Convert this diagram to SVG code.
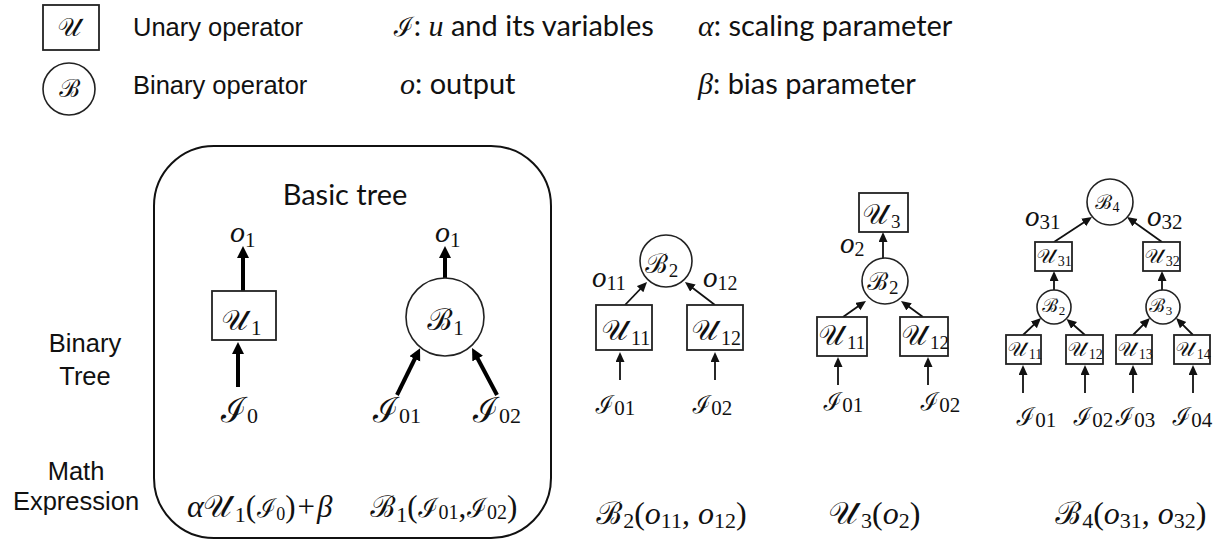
<svg xmlns="http://www.w3.org/2000/svg" width="1221" height="542" viewBox="0 0 1221 542">
<style>
.bg{fill:#fff}
.lbl{font-family:"Liberation Sans",Arial,sans-serif;font-size:25.5px;fill:#111}
.cal{font-family:Lato,"Open Sans",sans-serif;font-size:29px;fill:#111}
.mi{font-family:"Liberation Serif","DejaVu Serif",serif;font-style:italic}
.sc{font-family:"Noto Sans Math","STIX Two Math","DejaVu Serif","DejaVu Sans",serif;font-style:normal}
.dg{font-family:"Liberation Serif","DejaVu Serif",serif;font-style:normal}
text{fill:#111}
.box{fill:#fff;stroke:#222;stroke-width:1.8}
.cir{fill:#fff;stroke:#222;stroke-width:1.6}
.frame{fill:none;stroke:#111;stroke-width:2}
.thick{stroke:#000;stroke-width:4;fill:none;marker-end:url(#ah)}
.thin{stroke:#111;stroke-width:1.8;fill:none;marker-end:url(#at)}
</style>
<defs>
<marker id="ah" markerUnits="userSpaceOnUse" markerWidth="14" markerHeight="14" refX="1" refY="6" orient="auto"><path d="M0,0 L12,6 L0,12 z" fill="#000"/></marker>
<marker id="at" markerUnits="userSpaceOnUse" markerWidth="12" markerHeight="12" refX="1" refY="4.5" orient="auto"><path d="M0,0 L10,4.5 L0,9 z" fill="#111"/></marker>
</defs>
<rect class="bg" x="0" y="0" width="1221" height="542"/>

<g id="legend">
<rect class="box" x="43" y="5" width="56" height="45"/>
<text class="sc" x="71" y="36" font-size="25" text-anchor="middle">𝒰</text>
<text class="lbl" x="133" y="36">Unary operator</text>
<circle class="cir" cx="69" cy="89" r="26"/>
<text class="sc" x="70" y="97" font-size="25" text-anchor="middle">ℬ</text>
<text class="lbl" x="133" y="94">Binary operator</text>
<text class="cal" x="393" y="36"><tspan class="sc" font-size="27">ℐ</tspan><tspan>: </tspan><tspan class="mi" font-size="30">u</tspan><tspan> and its variables</tspan></text>
<text class="cal" x="400" y="94"><tspan class="mi" font-size="30">o</tspan><tspan>: output</tspan></text>
<text class="cal" x="698" y="36"><tspan class="mi" font-size="30">α</tspan><tspan>: scaling parameter</tspan></text>
<text class="cal" x="698" y="94"><tspan class="mi" font-size="30">β</tspan><tspan>: bias parameter</tspan></text>
</g>

<g id="row-labels">
<text class="lbl" x="85" y="352" text-anchor="middle">Binary</text>
<text class="lbl" x="85" y="385" text-anchor="middle">Tree</text>
<text class="lbl" x="76" y="480" text-anchor="middle">Math</text>
<text class="lbl" x="76" y="510" text-anchor="middle">Expression</text>
</g>

<g id="basic-tree">
<rect class="frame" x="154" y="146" width="397" height="392" rx="60" ry="60"/>
<text class="cal" x="345" y="205" text-anchor="middle">Basic tree</text>
</g>

<g id="connectors">
<path class="thick" d="M243,291 L243,257"/>
<path class="thick" d="M238,387 L238,353"/>
<path class="thick" d="M445,278 L445,257"/>
<path class="thick" d="M397,395 L415.2,358"/>
<path class="thick" d="M497,395 L477.2,357.7"/>
<path class="thin" d="M625,305 L640.8,288.5"/>
<path class="thin" d="M715,305 L692.1,287.5"/>
<path class="thin" d="M620,380 L620,361"/>
<path class="thin" d="M715,380 L715,361"/>
<path class="thin" d="M883,258 L883,241"/>
<path class="thin" d="M843,317 L858.6,306.1"/>
<path class="thin" d="M923,317 L908.3,306.3"/>
<path class="thin" d="M838,385 L838,366"/>
<path class="thin" d="M928,385 L928,366"/>
<path class="thin" d="M1054,242 L1084.5,221.9"/>
<path class="thin" d="M1162,242 L1134.3,222.2"/>
<path class="thin" d="M1054,291 L1054,280"/>
<path class="thin" d="M1162,291 L1162,280"/>
<path class="thin" d="M1023,335 L1034.5,324.2"/>
<path class="thin" d="M1085,335 L1073.3,324.8"/>
<path class="thin" d="M1133,335 L1143.6,324.4"/>
<path class="thin" d="M1193,335 L1182.4,324.4"/>
<path class="thin" d="M1023,393 L1023,374"/>
<path class="thin" d="M1085,393 L1085,374"/>
<path class="thin" d="M1133,393 L1133,374"/>
<path class="thin" d="M1193,393 L1193,374"/>
</g>

<g id="o1-a"><text x="230" y="242"><tspan class="mi" font-size="30">o</tspan><tspan class="dg" font-size="21" dy="5">1</tspan></text></g>
<g id="U1"><rect class="box" x="212" y="291" width="64" height="49"/><text x="222" y="330"><tspan class="sc" font-size="28">𝒰</tspan><tspan class="dg" font-size="21" dy="5">1</tspan></text></g>
<g id="I0"><text x="220" y="422"><tspan class="sc" font-size="35">ℐ</tspan><tspan class="dg" font-size="22" dy="1">0</tspan></text></g>
<g id="o1-b"><text x="435" y="242"><tspan class="mi" font-size="30">o</tspan><tspan class="dg" font-size="21" dy="5">1</tspan></text></g>
<g id="B1"><circle class="cir" cx="445" cy="317" r="39"/><text x="427" y="330"><tspan class="sc" font-size="30">ℬ</tspan><tspan class="dg" font-size="21" dy="5">1</tspan></text></g>
<g id="I01-a"><text x="372" y="422"><tspan class="sc" font-size="35">ℐ</tspan><tspan class="dg" font-size="22" dy="1">01</tspan></text></g>
<g id="I02-a"><text x="472" y="422"><tspan class="sc" font-size="35">ℐ</tspan><tspan class="dg" font-size="22" dy="1">02</tspan></text></g>
<g id="expr-a"><text x="187" y="517"><tspan class="mi" font-size="32">α</tspan><tspan class="sc" font-size="30">𝒰</tspan><tspan class="dg" font-size="22" dy="5">1</tspan><tspan class="dg" font-size="31" dy="-5">(</tspan><tspan class="sc" font-size="26">ℐ</tspan><tspan class="dg" font-size="18" dy="3">0</tspan><tspan class="dg" font-size="31" dy="-3">)</tspan><tspan class="dg" font-size="31" dx="2">+</tspan><tspan class="mi" font-size="31" dx="2">β</tspan></text></g>
<g id="expr-b"><text x="370" y="517"><tspan class="sc" font-size="30">ℬ</tspan><tspan class="dg" font-size="22" dy="5">1</tspan><tspan class="dg" font-size="31" dy="-5">(</tspan><tspan class="sc" font-size="27">ℐ</tspan><tspan class="dg" font-size="20" dy="2">01</tspan><tspan class="dg" font-size="31" dy="-2">,</tspan><tspan class="sc" font-size="27">ℐ</tspan><tspan class="dg" font-size="20" dy="2">02</tspan><tspan class="dg" font-size="31" dy="-2">)</tspan></text></g>

<g id="B2-a"><circle class="cir" cx="666" cy="261" r="26"/><text x="645" y="273"><tspan class="sc" font-size="27">ℬ</tspan><tspan class="dg" font-size="19" dy="4">2</tspan></text></g>
<g id="o11-a"><text x="592" y="287"><tspan class="mi" font-size="29">o</tspan><tspan class="dg" font-size="20" dy="3">11</tspan></text></g>
<g id="o12-a"><text x="703" y="287"><tspan class="mi" font-size="29">o</tspan><tspan class="dg" font-size="20" dy="3">12</tspan></text></g>
<g id="U11-a"><rect class="box" x="596" y="305" width="56" height="45"/><text x="602" y="340"><tspan class="sc" font-size="28">𝒰</tspan><tspan class="dg" font-size="20" dy="5">11</tspan></text></g>
<g id="U12-a"><rect class="box" x="687" y="305" width="56" height="45"/><text x="692" y="340"><tspan class="sc" font-size="28">𝒰</tspan><tspan class="dg" font-size="20" dy="5">12</tspan></text></g>
<g id="I01-b"><text x="595" y="413"><tspan class="sc" font-size="25">ℐ</tspan><tspan class="dg" font-size="21" dy="2">01</tspan></text></g>
<g id="I02-b"><text x="692" y="413"><tspan class="sc" font-size="25">ℐ</tspan><tspan class="dg" font-size="21" dy="2">02</tspan></text></g>

<g id="U3"><rect class="box" x="859" y="193" width="49" height="39"/><text x="863" y="224"><tspan class="sc" font-size="27">𝒰</tspan><tspan class="dg" font-size="19" dy="4">3</tspan></text></g>
<g id="o2"><text x="840" y="253"><tspan class="mi" font-size="29">o</tspan><tspan class="dg" font-size="20" dy="3">2</tspan></text></g>
<g id="B2-b"><circle class="cir" cx="885" cy="281" r="23"/><text x="867" y="290"><tspan class="sc" font-size="25">ℬ</tspan><tspan class="dg" font-size="19" dy="4">2</tspan></text></g>
<g id="U11-b"><rect class="box" x="817" y="317" width="50" height="39"/><text x="819" y="345"><tspan class="sc" font-size="27">𝒰</tspan><tspan class="dg" font-size="19" dy="4">11</tspan></text></g>
<g id="U12-b"><rect class="box" x="900" y="317" width="48" height="39"/><text x="902" y="345"><tspan class="sc" font-size="27">𝒰</tspan><tspan class="dg" font-size="19" dy="4">12</tspan></text></g>
<g id="I01-c"><text x="823" y="410"><tspan class="sc" font-size="25">ℐ</tspan><tspan class="dg" font-size="21" dy="2">01</tspan></text></g>
<g id="I02-c"><text x="920" y="410"><tspan class="sc" font-size="25">ℐ</tspan><tspan class="dg" font-size="21" dy="2">02</tspan></text></g>

<g id="B4"><circle class="cir" cx="1110" cy="202" r="23"/><text x="1095" y="209"><tspan class="sc" font-size="20">ℬ</tspan><tspan class="dg" font-size="14" dy="3">4</tspan></text></g>
<g id="o31"><text x="1025" y="226"><tspan class="mi" font-size="29">o</tspan><tspan class="dg" font-size="21" dy="3">31</tspan></text></g>
<g id="o32"><text x="1147" y="226"><tspan class="mi" font-size="29">o</tspan><tspan class="dg" font-size="21" dy="3">32</tspan></text></g>
<g id="U31"><rect class="box" x="1035" y="242" width="37" height="29"/><text x="1037" y="263"><tspan class="sc" font-size="20">𝒰</tspan><tspan class="dg" font-size="14" dy="3">31</tspan></text></g>
<g id="U32"><rect class="box" x="1143" y="242" width="37" height="29"/><text x="1145" y="263"><tspan class="sc" font-size="20">𝒰</tspan><tspan class="dg" font-size="14" dy="3">32</tspan></text></g>
<g id="B2-c"><circle class="cir" cx="1054" cy="307" r="17"/><text x="1042" y="312"><tspan class="sc" font-size="19">ℬ</tspan><tspan class="dg" font-size="13" dy="3">2</tspan></text></g>
<g id="B3"><circle class="cir" cx="1163" cy="307" r="17"/><text x="1149" y="312"><tspan class="sc" font-size="19">ℬ</tspan><tspan class="dg" font-size="13" dy="3">3</tspan></text></g>
<g id="U11-c"><rect class="box" x="1006" y="335" width="35" height="29"/><text x="1008" y="356"><tspan class="sc" font-size="20">𝒰</tspan><tspan class="dg" font-size="14" dy="3">11</tspan></text></g>
<g id="U12-c"><rect class="box" x="1066" y="335" width="37" height="29"/><text x="1068" y="356"><tspan class="sc" font-size="20">𝒰</tspan><tspan class="dg" font-size="14" dy="3">12</tspan></text></g>
<g id="U13"><rect class="box" x="1116" y="335" width="36" height="29"/><text x="1118" y="356"><tspan class="sc" font-size="20">𝒰</tspan><tspan class="dg" font-size="14" dy="3">13</tspan></text></g>
<g id="U14"><rect class="box" x="1174" y="335" width="36" height="29"/><text x="1176" y="356"><tspan class="sc" font-size="20">𝒰</tspan><tspan class="dg" font-size="14" dy="3">14</tspan></text></g>
<g id="I01-d"><text x="1016" y="425"><tspan class="sc" font-size="25">ℐ</tspan><tspan class="dg" font-size="21" dy="2">01</tspan></text></g>
<g id="I02-d"><text x="1073" y="425"><tspan class="sc" font-size="25">ℐ</tspan><tspan class="dg" font-size="21" dy="2">02</tspan></text></g>
<g id="I03"><text x="1115" y="425"><tspan class="sc" font-size="25">ℐ</tspan><tspan class="dg" font-size="21" dy="2">03</tspan></text></g>
<g id="I04"><text x="1172" y="425"><tspan class="sc" font-size="25">ℐ</tspan><tspan class="dg" font-size="21" dy="2">04</tspan></text></g>

<g id="expr-c"><text x="596" y="524"><tspan class="sc" font-size="31">ℬ</tspan><tspan class="dg" font-size="22" dy="4">2</tspan><tspan class="dg" font-size="32" dy="-4">(</tspan><tspan class="mi" font-size="32">o</tspan><tspan class="dg" font-size="22" dy="4">11</tspan><tspan class="dg" font-size="32" dy="-4">, </tspan><tspan class="mi" font-size="32">o</tspan><tspan class="dg" font-size="22" dy="4">12</tspan><tspan class="dg" font-size="32" dy="-4">)</tspan></text></g>
<g id="expr-d"><text x="829" y="524"><tspan class="sc" font-size="31">𝒰</tspan><tspan class="dg" font-size="22" dy="4">3</tspan><tspan class="dg" font-size="32" dy="-4">(</tspan><tspan class="mi" font-size="32">o</tspan><tspan class="dg" font-size="22" dy="4">2</tspan><tspan class="dg" font-size="32" dy="-4">)</tspan></text></g>
<g id="expr-e"><text x="1055" y="524"><tspan class="sc" font-size="31">ℬ</tspan><tspan class="dg" font-size="22" dy="4">4</tspan><tspan class="dg" font-size="32" dy="-4">(</tspan><tspan class="mi" font-size="32">o</tspan><tspan class="dg" font-size="22" dy="4">31</tspan><tspan class="dg" font-size="32" dy="-4">, </tspan><tspan class="mi" font-size="32">o</tspan><tspan class="dg" font-size="22" dy="4">32</tspan><tspan class="dg" font-size="32" dy="-4">)</tspan></text></g>
</svg>
